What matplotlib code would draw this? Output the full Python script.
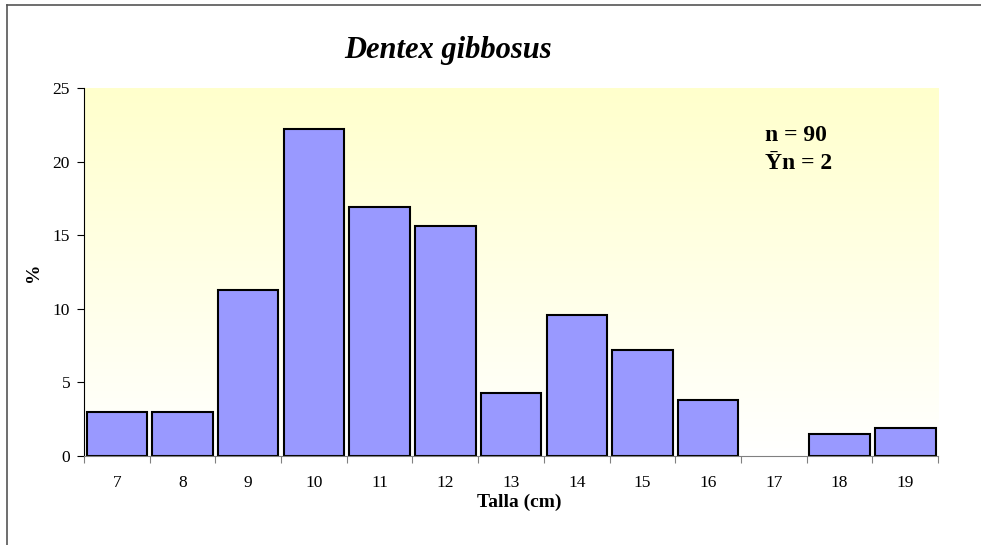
import numpy as np
import matplotlib
matplotlib.use('Agg')
import matplotlib.pyplot as plt
from matplotlib.lines import Line2D

# datos
tallas = ['7', '8', '9', '10', '11', '12', '13', '14', '15', '16', '17', '18', '19']
porcentaje = [3.0, 3.0, 11.3, 22.2, 16.9, 15.6, 4.3, 9.6, 7.2, 3.8, 0.0, 1.5, 1.9]
titulo = 'Dentex gibbosus'
texto_n = 'n = 90'
texto_yn = '\u0232n = 2'

plt.rcParams['font.family'] = ['Liberation Serif', 'DejaVu Serif']

fig = plt.figure(figsize=(9.81, 5.45), dpi=100)
ax = fig.add_axes([0.0856, 0.1633, 0.8707, 0.6752])

# fondo degradado amarillo -> blanco
grad = np.linspace(1, 0, 256).reshape(-1, 1)
top = np.array([1.0, 1.0, 0.80])
bot = np.array([1.0, 1.0, 1.0])
img = grad[..., None] * top + (1 - grad[..., None]) * bot
ax.imshow(img, extent=[0, 1, 0, 1], transform=ax.transAxes, aspect='auto', zorder=0)

x = np.arange(len(tallas))
anchos_borde = [1.5 if v > 0 else 0 for v in porcentaje]
ax.bar(x, porcentaje, width=0.92, color='#9999FF', edgecolor='black',
       linewidth=anchos_borde, zorder=2)

ax.set_xlim(-0.5, len(tallas) - 0.5)
ax.set_ylim(0, 25)
ax.set_yticks([0, 5, 10, 15, 20, 25])
ax.tick_params(axis='y', direction='out', length=5, labelsize=12.5, pad=5)

# marcas entre categorias, etiquetas en el centro
ax.set_xticks(np.arange(len(tallas) + 1) - 0.5)
ax.set_xticklabels([])
ax.set_xticks(x, minor=True)
ax.set_xticklabels(tallas, minor=True)
ax.tick_params(axis='x', which='major', direction='out', length=5, color='#808080')
ax.tick_params(axis='x', which='minor', length=0, labelsize=12.5, pad=13.5)

for s in ['top', 'right']:
    ax.spines[s].set_visible(False)
ax.spines['bottom'].set_color('#808080')
ax.spines['left'].set_color('black')

ax.set_xlabel('Talla (cm)', fontsize=14, fontweight='bold')
ax.xaxis.set_label_coords(0.51, -0.103)
ax.set_ylabel('%', fontsize=14, fontweight='bold', labelpad=8)

fig.text(0.4567, 0.908, titulo, fontsize=22, fontweight='bold', style='italic',
         ha='center', va='center')
ax.text(0.797, 0.87, texto_n, transform=ax.transAxes, fontsize=17, fontweight='bold',
        ha='left', va='center')
ax.text(0.797, 0.796, texto_yn, transform=ax.transAxes, fontsize=17, fontweight='bold',
        ha='left', va='center')

# borde exterior (solo izquierda y arriba visibles)
fig.add_artist(Line2D([7 / 981, 7 / 981], [0, 1 - 5 / 545], transform=fig.transFigure,
                      color='#555555', linewidth=1.2))
fig.add_artist(Line2D([7 / 981, 1], [1 - 5 / 545, 1 - 5 / 545], transform=fig.transFigure,
                      color='#555555', linewidth=1.2))

fig.savefig('out.png', dpi=100)
